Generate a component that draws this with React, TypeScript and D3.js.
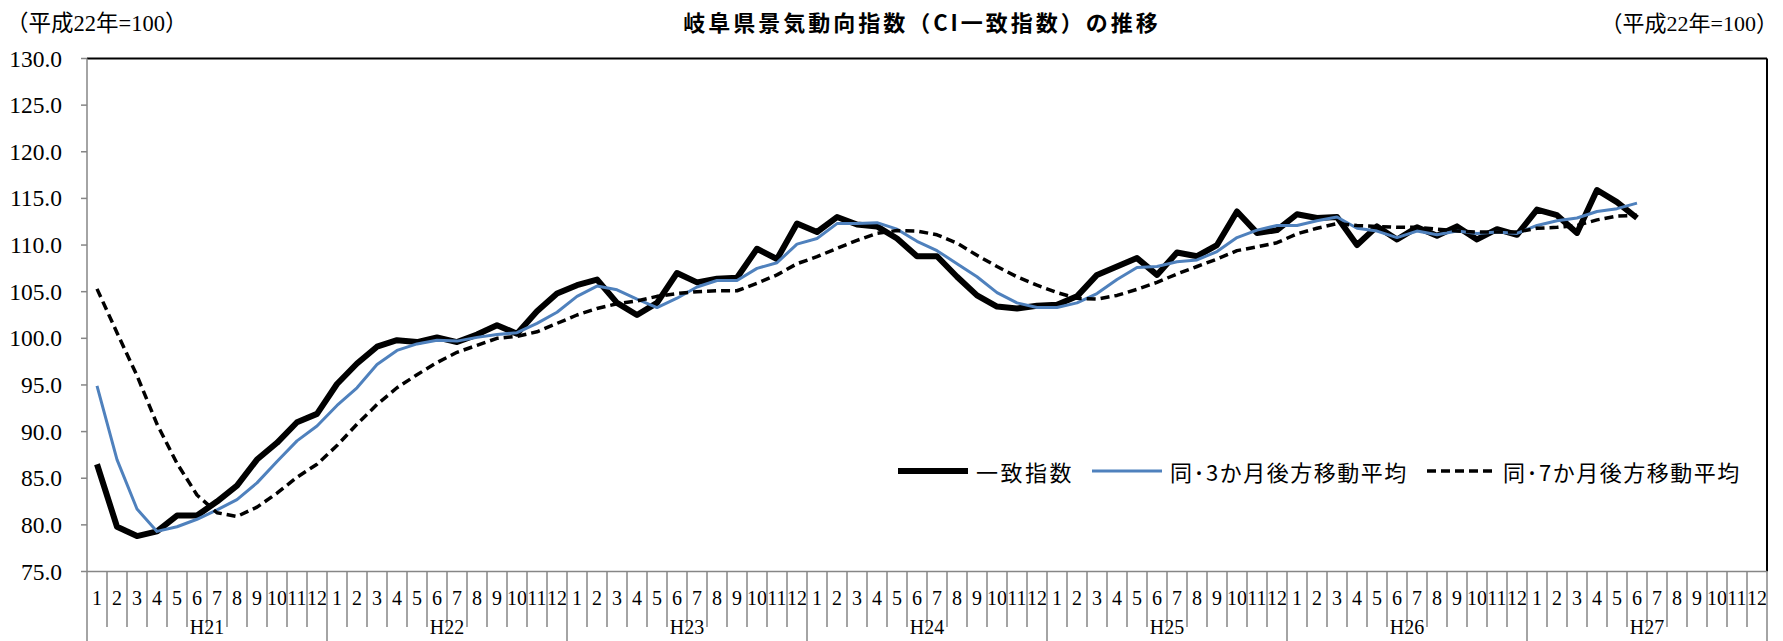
import React, { useEffect } from "react";
import * as d3 from "d3";

const years = ["H21", "H22", "H23", "H24", "H25", "H26", "H27"];
const monthLabels = ["1", "2", "3", "4", "5", "6", "7", "8", "9", "10", "11", "12"];
const yTicks = [75, 80, 85, 90, 95, 100, 105, 110, 115, 120, 125, 130];

// 一致指数 (H21/1 .. H27/6)
const coincident = [
  86.5, 79.8, 78.8, 79.3, 81.0, 81.0, 82.5, 84.2, 87.0, 88.8, 91.0, 91.9,
  95.1, 97.3, 99.1, 99.8, 99.6, 100.1, 99.6, 100.4, 101.4, 100.5, 102.9, 104.8,
  105.7, 106.3, 103.8, 102.5, 103.8, 107.0, 106.0, 106.4, 106.5, 109.6, 108.5, 112.3,
  111.4, 113.0, 112.2, 112.0, 110.7, 108.8, 108.8, 106.6, 104.6, 103.4, 103.2, 103.5,
  103.6, 104.5, 106.8, 107.7, 108.6, 106.8, 109.2, 108.8, 110.0, 113.6, 111.3, 111.6,
  113.3, 112.9, 113.0, 110.0, 112.0, 110.6, 111.9, 111.0, 112.0, 110.6, 111.7, 111.1,
  113.8, 113.2, 111.3, 115.9, 114.6, 112.9,
];

// 同・3か月後方移動平均
const ma3 = [
  94.9, 87.0, 81.7, 79.3, 79.8, 80.6, 81.6, 82.7, 84.5, 86.8, 89.0, 90.6,
  92.8, 94.7, 97.2, 98.7, 99.4, 99.8, 99.7, 100.1, 100.4, 100.6, 101.6, 102.8,
  104.5, 105.6, 105.2, 104.2, 103.3, 104.3, 105.5, 106.2, 106.2, 107.5, 108.1, 110.1,
  110.7, 112.3, 112.3, 112.4, 111.7, 110.4, 109.4, 108.0, 106.6, 104.9, 103.8, 103.3,
  103.3, 103.8, 104.8, 106.3, 107.6, 107.7, 108.2, 108.4, 109.3, 110.8, 111.6, 112.1,
  112.1, 112.6, 113.0, 111.8, 111.5, 110.8, 111.5, 111.1, 111.5, 111.25, 111.4, 111.25,
  112.1, 112.6, 112.9, 113.6, 113.9, 114.5,
];

// 同・7か月後方移動平均
const ma7 = [
  105.3, 100.6, 96.0, 90.8, 86.6, 83.2, 81.3, 80.9, 81.9, 83.4, 85.1, 86.5,
  88.5, 90.8, 92.9, 94.7, 96.1, 97.4, 98.5, 99.25, 100.0, 100.2, 100.7, 101.6,
  102.5, 103.2, 103.7, 104.0, 104.5, 104.8, 105.0, 105.1, 105.1, 105.9, 106.8, 108.0,
  108.75, 109.65, 110.5, 111.25, 111.55, 111.5, 111.1, 110.2, 108.9, 107.7, 106.6, 105.7,
  104.9, 104.3, 104.2, 104.6, 105.25, 106.0, 106.9, 107.7, 108.5, 109.4, 109.8, 110.25,
  111.2, 111.8, 112.3, 112.1, 112.0, 111.9, 111.9, 111.7, 111.5, 111.4, 111.4, 111.4,
  111.8, 111.9, 112.1, 112.7, 113.1, 113.2,
];

const legendItems = ["一致指数", "同･3か月後方移動平均", "同･7か月後方移動平均"];

const W = 1783;
const H = 641;
const L = 87;
const R = 1767;
const T = 58.5;
const B = 571.5;

const SERIF = "'Liberation Serif', 'Noto Sans CJK JP', serif";
const GOTHIC = "'Noto Sans CJK JP', 'Noto Sans', sans-serif";

export default function App() {
  useEffect(() => {
    document.body.style.margin = "0";
  }, []);

  const monthKeys: string[] = [];
  years.forEach((yr) => monthLabels.forEach((m) => monthKeys.push(`${yr}-${m}`)));

  const x = d3.scaleBand<string>().domain(monthKeys).range([L, R]).padding(0);
  const y = d3.scaleLinear().domain([75, 130]).range([B, T]);
  const bw = x.bandwidth();
  const cx = (i: number) => (x(monthKeys[i]) as number) + bw / 2;

  const line = d3
    .line<number>()
    .x((_, i) => cx(i))
    .y((v) => y(v));

  const yearScale = d3.scaleBand<string>().domain(years).range([L, R]);

  const axisColor = "#868686";

  return (
    <svg
      width={W}
      height={H}
      style={{ position: "absolute", left: 0, top: 0, display: "block", background: "#fff" }}
    >
      <rect x={0} y={0} width={W} height={H} fill="#fff" />
      {/* title */}
      <text
        x={922}
        y={21}
        textAnchor="middle"
        dominantBaseline="central"
        fontFamily={GOTHIC}
        fontSize={22}
        fontWeight="bold"
        letterSpacing={3}
      >
        岐阜県景気動向指数（CI一致指数）の推移
      </text>
      <text x={6} y={23} dominantBaseline="central" fontFamily={SERIF} fontSize={22.5}>
        （平成22年=100）
      </text>
      <text x={1778} y={23} textAnchor="end" dominantBaseline="central" fontFamily={SERIF} fontSize={22}>
        （平成22年=100）
      </text>

      {/* plot border top/right */}
      <line x1={L} x2={R} y1={T} y2={T} stroke="#000" strokeWidth={2} />
      <line x1={R} x2={R} y1={T} y2={B} stroke="#000" strokeWidth={2} />

      {/* y axis */}
      <line x1={L} x2={L} y1={T} y2={H} stroke={axisColor} strokeWidth={1.5} />
      {yTicks.map((t) => (
        <g key={t}>
          <line x1={L - 6} x2={L} y1={y(t)} y2={y(t)} stroke={axisColor} strokeWidth={1.5} />
          <text
            x={62}
            y={y(t)}
            textAnchor="end"
            dominantBaseline="central"
            fontFamily={SERIF}
            fontSize={23.5}
          >
            {t.toFixed(1)}
          </text>
        </g>
      ))}

      {/* x axis */}
      <line x1={L} x2={R} y1={B} y2={B} stroke={axisColor} strokeWidth={1.5} />
      {monthKeys.map((k, i) => {
        const x0 = x(k) as number;
        const isYear = i % 12 === 0;
        return (
          <g key={k}>
            {i > 0 && (
              <line
                x1={x0}
                x2={x0}
                y1={B}
                y2={isYear ? H : 627}
                stroke={axisColor}
                strokeWidth={1.5}
              />
            )}
            <text
              x={x0 + bw / 2}
              y={598}
              textAnchor="middle"
              dominantBaseline="central"
              fontFamily={SERIF}
              fontSize={20}
            >
              {monthLabels[i % 12]}
            </text>
          </g>
        );
      })}
      <line x1={R} x2={R} y1={B} y2={H} stroke={axisColor} strokeWidth={1.5} />
      {years.map((yr) => (
        <text
          key={yr}
          x={(yearScale(yr) as number) + yearScale.bandwidth() / 2}
          y={627}
          textAnchor="middle"
          dominantBaseline="central"
          fontFamily={SERIF}
          fontSize={20}
        >
          {yr}
        </text>
      ))}

      {/* series */}
      <path d={line(coincident) || ""} fill="none" stroke="#000" strokeWidth={6} strokeLinejoin="round" />
      <path d={line(ma3) || ""} fill="none" stroke="#4F81BD" strokeWidth={3} strokeLinejoin="round" />
      <path
        d={line(ma7) || ""}
        fill="none"
        stroke="#000"
        strokeWidth={3.5}
        strokeDasharray="9,5"
        strokeLinejoin="round"
      />

      {/* legend */}
      <line x1={898} x2={968} y1={471} y2={471} stroke="#000" strokeWidth={6} />
      <text x={976} y={471} dominantBaseline="central" fontFamily={GOTHIC} fontSize={22} letterSpacing={2.5}>
        {legendItems[0]}
      </text>
      <line x1={1092} x2={1162} y1={471} y2={471} stroke="#4F81BD" strokeWidth={3} />
      <text x={1170} y={471} dominantBaseline="central" fontFamily={GOTHIC} fontSize={22} letterSpacing={1.5}>
        {legendItems[1]}
      </text>
      <line x1={1427} x2={1497} y1={471} y2={471} stroke="#000" strokeWidth={3.5} strokeDasharray="9,5" />
      <text x={1503} y={471} dominantBaseline="central" fontFamily={GOTHIC} fontSize={22} letterSpacing={1.5}>
        {legendItems[2]}
      </text>
    </svg>
  );
}
